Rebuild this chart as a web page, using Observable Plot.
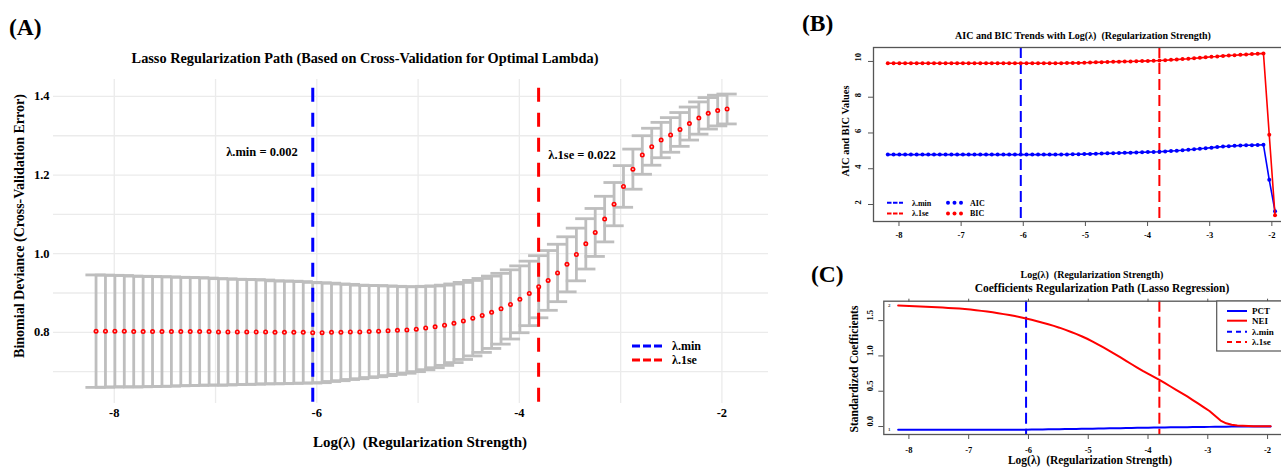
<!DOCTYPE html>
<html><head><meta charset="utf-8">
<script src="https://cdn.jsdelivr.net/npm/d3@7"></script>
<script src="https://cdn.jsdelivr.net/npm/@observablehq/plot@0.6"></script>
<style>
html,body{margin:0;padding:0;background:#fff;overflow:hidden;width:1281px;height:468px;}
#root{position:relative;width:1281px;height:468px;overflow:hidden;background:#fff;}
#root > svg{position:absolute;}
#root text{white-space:pre;}
</style></head><body><div id="root"></div>
<script>
// ---------- data ----------
const logLambda = [-8.180,-8.087,-7.994,-7.901,-7.808,-7.715,-7.622,-7.529,-7.436,-7.343,
 -7.250,-7.157,-7.064,-6.971,-6.878,-6.785,-6.692,-6.599,-6.506,-6.413,
 -6.320,-6.227,-6.134,-6.041,-5.948,-5.855,-5.762,-5.669,-5.576,-5.483,
 -5.390,-5.297,-5.204,-5.111,-5.018,-4.925,-4.832,-4.739,-4.646,-4.553,
 -4.460,-4.367,-4.274,-4.181,-4.088,-3.995,-3.902,-3.809,-3.716,-3.623,
 -3.530,-3.437,-3.344,-3.251,-3.158,-3.065,-2.972,-2.879,-2.786,-2.693,
 -2.600,-2.507,-2.414,-2.321,-2.228,-2.135,-2.042,-1.949];
const cvMean = [0.803,0.803,0.803,0.803,0.802,0.802,0.802,0.802,0.802,0.802,
 0.802,0.802,0.802,0.801,0.801,0.801,0.801,0.801,0.801,0.800,
 0.800,0.800,0.800,0.799,0.799,0.800,0.800,0.801,0.801,0.802,
 0.803,0.804,0.805,0.806,0.808,0.811,0.814,0.818,0.823,0.829,
 0.836,0.843,0.851,0.860,0.871,0.884,0.899,0.916,0.932,0.951,
 0.973,0.998,1.025,1.054,1.088,1.126,1.171,1.215,1.251,1.272,
 1.289,1.302,1.316,1.331,1.345,1.357,1.364,1.368];
const cvSE = [0.143,0.1425,0.142,0.1415,0.141,0.1405,0.140,0.1395,0.139,0.138,
 0.1375,0.137,0.136,0.1355,0.135,0.134,0.1335,0.133,0.132,0.131,
 0.1305,0.130,0.129,0.128,0.127,0.125,0.123,0.121,0.119,0.117,
 0.116,0.114,0.112,0.110,0.108,0.106,0.104,0.102,0.100,0.098,
 0.096,0.094,0.092,0.090,0.088,0.085,0.082,0.079,0.076,0.073,
 0.070,0.067,0.064,0.061,0.058,0.055,0.053,0.051,0.049,0.047,
 0.045,0.044,0.043,0.042,0.041,0.040,0.039,0.038];
const aicValues = [4.79,4.79,4.79,4.79,4.79,4.79,4.79,4.79,4.79,4.79,
 4.79,4.79,4.79,4.79,4.79,4.79,4.79,4.79,4.79,4.79,
 4.79,4.79,4.79,4.79,4.79,4.79,4.79,4.79,4.79,4.79,
 4.80,4.80,4.81,4.81,4.82,4.83,4.84,4.85,4.86,4.87,
 4.88,4.89,4.90,4.91,4.92,4.93,4.94,4.95,4.97,4.99,
 5.01,5.03,5.06,5.09,5.12,5.15,5.18,5.21,5.24,5.26,
 5.28,5.30,5.31,5.32,5.33,5.34,3.38,1.62];
const bicValues = [9.90,9.90,9.90,9.90,9.90,9.90,9.90,9.90,9.90,9.90,
 9.90,9.90,9.90,9.90,9.90,9.90,9.90,9.90,9.90,9.90,
 9.90,9.90,9.90,9.90,9.90,9.90,9.90,9.90,9.90,9.90,
 9.90,9.91,9.91,9.92,9.93,9.94,9.95,9.96,9.97,9.98,
 9.99,10.00,10.00,10.01,10.02,10.03,10.04,10.05,10.07,10.09,
 10.11,10.13,10.15,10.18,10.20,10.23,10.26,10.28,10.31,10.33,
 10.35,10.37,10.39,10.41,10.43,10.45,5.90,1.40];
const coefNEI = [1.714,1.711,1.708,1.705,1.701,1.697,1.693,1.689,1.685,1.680,
 1.675,1.670,1.664,1.657,1.648,1.638,1.628,1.617,1.605,1.592,
 1.578,1.564,1.549,1.530,1.511,1.491,1.470,1.448,1.426,1.400,
 1.372,1.343,1.312,1.279,1.243,1.203,1.160,1.116,1.071,1.025,
 0.978,0.930,0.882,0.834,0.788,0.745,0.703,0.661,0.614,0.567,
 0.520,0.474,0.427,0.375,0.324,0.272,0.220,0.152,0.085,0.045,
 0.026,0.015,0.011,0.008,0.005,0.004,0.003,0.003];
const coefPCT = [-0.045,-0.045,-0.045,-0.045,-0.045,-0.045,-0.045,-0.045,-0.045,-0.045,
 -0.045,-0.045,-0.045,-0.045,-0.045,-0.045,-0.045,-0.045,-0.045,-0.045,
 -0.045,-0.045,-0.045,-0.044,-0.043,-0.042,-0.041,-0.040,-0.039,-0.037,
 -0.036,-0.035,-0.034,-0.032,-0.031,-0.030,-0.028,-0.027,-0.026,-0.024,
 -0.023,-0.022,-0.020,-0.019,-0.018,-0.016,-0.015,-0.014,-0.013,-0.012,
 -0.011,-0.010,-0.009,-0.008,-0.007,-0.006,-0.005,-0.004,-0.003,-0.002,
 -0.001,0,0,0,0,0,0,0];
const lambdaMinLog = -6.04;
const lambda1seLog = -3.81;
const xTicksA = [-8,-6,-4,-2];
const xGridA = [-8,-7,-6,-5,-4,-3,-2];
const yTicksA = [0.8,1.0,1.2,1.4];
const yGridA = [0.7,0.8,0.9,1.0,1.1,1.2,1.3,1.4];
const xTicksBC = [-8,-7,-6,-5,-4,-3,-2];
const yTicksB = [2,4,6,8,10];
const yTicksC = [0,0.5,1.0,1.5];

// ---------- derived tables ----------
const cv = logLambda.map((x,i)=>({x, m:cvMean[i], lo:cvMean[i]-cvSE[i], hi:cvMean[i]+cvSE[i]}));
const ic = logLambda.map((x,i)=>({x, aic:aicValues[i], bic:bicValues[i]}));
const coef = logLambda.map((x,i)=>({x, pct:coefPCT[i], nei:coefNEI[i]}));

const FONT = '"Liberation Serif","Times New Roman",serif';
const root = document.getElementById("root");
const capHalf = 0.1;
const GRAY = "#bebebe";

// ---------- Panel A ----------
const A = Plot.plot({
  width: 800, height: 468,
  marginLeft: 53, marginRight: 32, marginTop: 79, marginBottom: 65,
  x: {domain: [-8.60, -1.54]},
  y: {domain: [0.619, 1.443]},
  style: {fontFamily: FONT, fontWeight: "bold", fontSize: "12.5px", background: "transparent", color: "#000"},
  marks: [
    Plot.gridX(xGridA, {stroke: "#ebebeb", strokeOpacity: 1, strokeWidth: 1.3}),
    Plot.gridY(yGridA, {stroke: "#ebebeb", strokeOpacity: 1, strokeWidth: 1.3}),
    Plot.axisX(xTicksA, {tickSize: 0, tickPadding: 5, label: null, tickFormat: d => String(d)}),
    Plot.axisY(yTicksA, {tickSize: 0, tickPadding: 4, label: null, tickFormat: d => d.toFixed(1)}),
    Plot.ruleX(cv, {x: "x", y1: "lo", y2: "hi", stroke: GRAY, strokeWidth: 2.8}),
    Plot.ruleY(cv, {y: "hi", x1: d => d.x - capHalf, x2: d => d.x + capHalf, stroke: GRAY, strokeWidth: 2.8}),
    Plot.ruleY(cv, {y: "lo", x1: d => d.x - capHalf, x2: d => d.x + capHalf, stroke: GRAY, strokeWidth: 2.8}),
    Plot.ruleX([lambdaMinLog], {y1: 0.619, y2: 1.443, stroke: "#0000ff", strokeWidth: 3, strokeDasharray: "14,11", strokeDashoffset: 23.7}),
    Plot.ruleX([lambda1seLog], {y1: 0.619, y2: 1.443, stroke: "#ff0000", strokeWidth: 3, strokeDasharray: "14,11", strokeDashoffset: 23.7}),
    Plot.dot(cv, {x: "x", y: "m", r: 2.5, fill: "#ff0000"}),
    Plot.dot(cv, {x: "x", y: "m", r: 0.9, fill: "#ffc8c8"})
  ]
});
A.style.left = "0px"; A.style.top = "0px";
root.appendChild(A);

// ---------- Panel B ----------
const B = Plot.plot({
  width: 490, height: 250,
  marginLeft: 73, marginRight: 0, marginTop: 47, marginBottom: 29,
  x: {domain: [-8.41, -1.70]},
  y: {domain: [1.05, 10.78]},
  style: {fontFamily: FONT, fontWeight: "bold", fontSize: "8.5px", background: "transparent", color: "#000"},
  marks: [
    Plot.ruleX([lambdaMinLog], {stroke: "#0000ff", strokeWidth: 2, strokeDasharray: "11,5"}),
    Plot.ruleX([lambda1seLog], {stroke: "#ff0000", strokeWidth: 2, strokeDasharray: "11,5"}),
    Plot.line(ic, {x: "x", y: "aic", stroke: "#0000ff", strokeWidth: 1.6}),
    Plot.dot(ic, {x: "x", y: "aic", r: 2, fill: "#0000ff"}),
    Plot.line(ic, {x: "x", y: "bic", stroke: "#ff0000", strokeWidth: 1.6}),
    Plot.dot(ic, {x: "x", y: "bic", r: 2, fill: "#ff0000"}),
    Plot.frame({stroke: "#555", strokeWidth: 1.3}),
    Plot.axisX(xTicksBC, {tickSize: 5, tickPadding: 5, label: null, stroke: "#555", tickFormat: d => String(d)}),
    Plot.axisY(yTicksB, {tickSize: 5, label: null, stroke: "#555", tickFormat: () => ""}),
    Plot.text(yTicksB, {y: d => d, frameAnchor: "left", dx: -15, rotate: -90, text: d => String(d), fontSize: 8.5, fontWeight: "bold"})
  ]
});
B.style.left = "800px"; B.style.top = "0px";
root.appendChild(B);

// ---------- Panel C ----------
const C = Plot.plot({
  width: 485, height: 188,
  marginLeft: 83.3, marginRight: 0, marginTop: 20.7, marginBottom: 34,
  x: {domain: [-8.42, -1.70]},
  y: {domain: [-0.113, 1.775]},
  style: {fontFamily: FONT, fontWeight: "bold", fontSize: "8.5px", background: "transparent", color: "#000"},
  marks: [
    Plot.ruleX([lambdaMinLog], {stroke: "#0000ff", strokeWidth: 2, strokeDasharray: "11,5"}),
    Plot.ruleX([lambda1seLog], {stroke: "#ff0000", strokeWidth: 2, strokeDasharray: "11,5"}),
    Plot.line(coef, {x: "x", y: "pct", stroke: "#0000ff", strokeWidth: 2}),
    Plot.line(coef, {x: "x", y: "nei", stroke: "#ff0000", strokeWidth: 2}),
    Plot.frame({stroke: "#555", strokeWidth: 1.3}),
    Plot.axisX(xTicksBC, {tickSize: 5, tickPadding: 7, label: null, stroke: "#555", tickFormat: d => String(d)}),
    Plot.axisX(xTicksBC, {anchor: "top", tickSize: 3, label: null, stroke: "#555", tickFormat: () => ""}),
    Plot.axisY(yTicksC, {tickSize: 5, label: null, stroke: "#555", tickFormat: () => ""}),
    Plot.text(yTicksC, {y: d => d, frameAnchor: "left", dx: -13.3, rotate: -90, text: d => d.toFixed(1), fontSize: 8.5, fontWeight: "bold"}),
    Plot.text([coef[0]], {x: "x", y: "pct", text: () => "1", dx: -9, fontSize: 5, fill: "#444"}),
    Plot.text([coef[0]], {x: "x", y: "nei", text: () => "2", dx: -9, fontSize: 5, fill: "#444"})
  ]
});
C.style.left = "800px"; C.style.top = "280px";
root.appendChild(C);

// ---------- titles, axis titles, legends ----------
const ns = "http://www.w3.org/2000/svg";
const ov = document.createElementNS(ns, "svg");
ov.setAttribute("width", 1281); ov.setAttribute("height", 468);
ov.style.left = "0px"; ov.style.top = "0px";
ov.setAttribute("font-family", FONT);
ov.setAttribute("font-weight", "bold");
ov.innerHTML = `
<text x="9" y="35" font-size="23.5">(A)</text>
<text x="365" y="63" font-size="14.3" text-anchor="middle">Lasso Regularization Path (Based on Cross-Validation for Optimal Lambda)</text>
<text transform="translate(24,226) rotate(-90)" font-size="14" text-anchor="middle">Binomial Deviance (Cross-Validation Error)</text>
<text x="420" y="447" font-size="15" text-anchor="middle">Log(λ)  (Regularization Strength)</text>
<text x="262" y="156" font-size="12.5" text-anchor="middle">λ.min = 0.002</text>
<text x="582" y="159" font-size="12.5" text-anchor="middle">λ.1se = 0.022</text>
<line x1="632" x2="663" y1="346" y2="346" stroke="#0000ff" stroke-width="3" stroke-dasharray="8,3"/>
<text x="672" y="350" font-size="12">λ.min</text>
<line x1="632" x2="663" y1="360" y2="360" stroke="#ff0000" stroke-width="3" stroke-dasharray="8,3"/>
<text x="672" y="364" font-size="12">λ.1se</text>

<text x="802" y="31" font-size="23.5">(B)</text>
<text x="1083" y="38.5" font-size="10" text-anchor="middle">AIC and BIC Trends with Log(λ)  (Regularization Strength)</text>
<text transform="translate(848.5,131) rotate(-90)" font-size="10.4" text-anchor="middle">AIC and BIC Values</text>
<text x="1092" y="277.5" font-size="10" text-anchor="middle">Log(λ)  (Regularization Strength)</text>
<line x1="887" x2="903" y1="202.7" y2="202.7" stroke="#0000ff" stroke-width="2" stroke-dasharray="4.5,1.5"/>
<text x="912" y="205.5" font-size="8">λ.min</text>
<line x1="887" x2="903" y1="213.5" y2="213.5" stroke="#ff0000" stroke-width="2" stroke-dasharray="4.5,1.5"/>
<text x="912" y="216.3" font-size="8">λ.1se</text>
<circle cx="948" cy="202.7" r="2" fill="#0000ff"/><circle cx="954.5" cy="202.7" r="2" fill="#0000ff"/><circle cx="961" cy="202.7" r="2" fill="#0000ff"/>
<text x="970" y="205.5" font-size="8">AIC</text>
<circle cx="948" cy="213.5" r="2" fill="#ff0000"/><circle cx="954.5" cy="213.5" r="2" fill="#ff0000"/><circle cx="961" cy="213.5" r="2" fill="#ff0000"/>
<text x="970" y="216.3" font-size="8">BIC</text>

<text x="811" y="282" font-size="23.5">(C)</text>
<text x="1102" y="292" font-size="11.5" text-anchor="middle">Coefficients Regularization Path (Lasso Regression)</text>
<text transform="translate(857.5,369) rotate(-90)" font-size="11.5" text-anchor="middle">Standardized Coefficients</text>
<text x="1090" y="464" font-size="11.5" text-anchor="middle">Log(λ)  (Regularization Strength)</text>
<rect x="1216.7" y="301" width="90" height="50" fill="#fff" stroke="#555" stroke-width="1.2"/>
<line x1="1227" x2="1247" y1="311" y2="311" stroke="#0000ff" stroke-width="2"/>
<text x="1252" y="314" font-size="9">PCT</text>
<line x1="1227" x2="1247" y1="320.7" y2="320.7" stroke="#ff0000" stroke-width="2"/>
<text x="1252" y="323.7" font-size="9">NEI</text>
<line x1="1227" x2="1247" y1="331.7" y2="331.7" stroke="#0000ff" stroke-width="2" stroke-dasharray="5,4"/>
<text x="1252" y="334.7" font-size="9">λ.min</text>
<line x1="1227" x2="1247" y1="342" y2="342" stroke="#ff0000" stroke-width="2" stroke-dasharray="5,4"/>
<text x="1252" y="345" font-size="9">λ.1se</text>
`;
root.appendChild(ov);
</script></body></html>
